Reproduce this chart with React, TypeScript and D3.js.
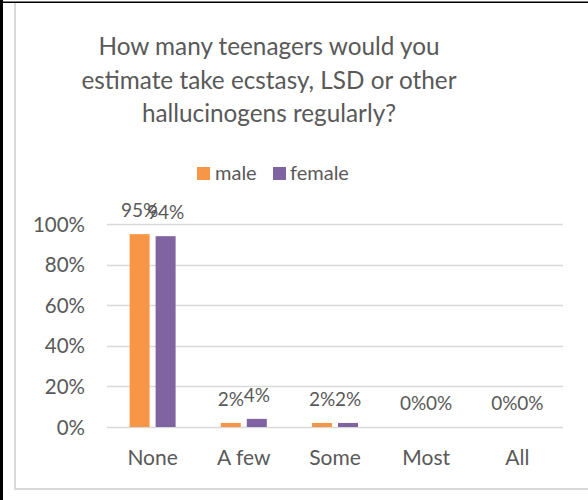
import React from "react";
import * as d3 from "d3";

const categories = ["None", "A few", "Some", "Most", "All"];
const seriesNames = ["male", "female"];
const maleValues = [0.95, 0.02, 0.02, 0, 0];
const femaleValues = [0.94, 0.04, 0.02, 0, 0];
const yTicks = [0, 0.2, 0.4, 0.6, 0.8, 1.0];
const titleLines = [
  "How many teenagers would you",
  "estimate take ecstasy, LSD or other",
  "hallucinogens regularly?",
];
const colors = ["#f79646", "#8064a2"];

const W = 588;
const H = 500;
const FONT = "Lato, 'Open Sans', sans-serif";
const TEXT = "#595959";
const GRID = "#d9d9d9";

export default function App() {
  const x = d3.scaleBand<string>().domain(categories).range([107, 563]).paddingInner(0).paddingOuter(0);
  const inner = d3
    .scaleBand<string>()
    .domain(seriesNames)
    .range([0, 46])
    .paddingInner(6 / 26)
    .paddingOuter(0);
  const groupOffset = (x.bandwidth() - 46) / 2;
  const y = d3.scaleLinear().domain([0, 1]).range([427, 224]);
  const fmt = d3.format(".0%");
  const series = [maleValues, femaleValues];

  return (
    <svg
      width={W}
      height={H}
      style={{ position: "absolute", left: 0, top: 0 }}
      fontFamily={FONT}
    >
      <rect x={0} y={0} width={W} height={H} fill="#fff" />
      {/* outer black frame */}
      <rect x={0} y={0} width={3} height={H} fill="#000" />
      <rect x={0} y={1.5} width={W} height={1.5} fill="#000" />
      {/* chart area border */}
      <rect x={14} y={3} width={2} height={487} fill={GRID} />
      <rect x={14} y={488} width={W - 14} height={2} fill={GRID} />

      {/* title */}
      {titleLines.map((t, i) => (
        <text
          key={i}
          x={269}
          y={55 + i * 33.5}
          textAnchor="middle"
          fontSize={24.3}
          fill={TEXT}
        >
          {t}
        </text>
      ))}

      {/* legend */}
      <g>
        <rect x={197} y={167} width={13} height={13} fill={colors[0]} />
        <text x={215} y={180} fontSize={20} fill={TEXT}>
          male
        </text>
        <rect x={273} y={167} width={13} height={13} fill={colors[1]} />
        <text x={290} y={180} fontSize={20} fill={TEXT}>
          female
        </text>
      </g>

      {/* gridlines */}
      {yTicks.map((t) => (
        <line
          key={t}
          x1={107}
          x2={563}
          y1={Math.round(y(t)) + 0.5}
          y2={Math.round(y(t)) + 0.5}
          stroke={GRID}
          strokeWidth={1.3}
        />
      ))}
      {/* y labels */}
      {yTicks.map((t) => (
        <text
          key={"l" + t}
          x={85}
          y={y(t) + 7.5}
          textAnchor="end"
          fontSize={20.5}
          fill={TEXT}
        >
          {fmt(t)}
        </text>
      ))}

      {/* bars */}
      {categories.map((c, ci) => (
        <g key={c}>
          {seriesNames.map((s, si) => {
            const v = series[si][ci];
            const bx = (x(c) as number) + groupOffset + (inner(s) as number);
            return (
              <rect
                key={s}
                x={bx}
                y={y(v)}
                width={inner.bandwidth()}
                height={y(0) - y(v)}
                fill={colors[si]}
              />
            );
          })}
          {seriesNames.map((s, si) => {
            const v = series[si][ci];
            const cx = (x(c) as number) + groupOffset + (inner(s) as number) + inner.bandwidth() / 2;
            return (
              <text
                key={"t" + s}
                x={cx}
                y={y(v) - 17}
                textAnchor="middle"
                fontSize={19}
                fill={TEXT}
              >
                {fmt(v)}
              </text>
            );
          })}
          <text
            x={(x(c) as number) + x.bandwidth() / 2}
            y={465}
            textAnchor="middle"
            fontSize={21}
            fill={TEXT}
          >
            {c}
          </text>
        </g>
      ))}
    </svg>
  );
}
